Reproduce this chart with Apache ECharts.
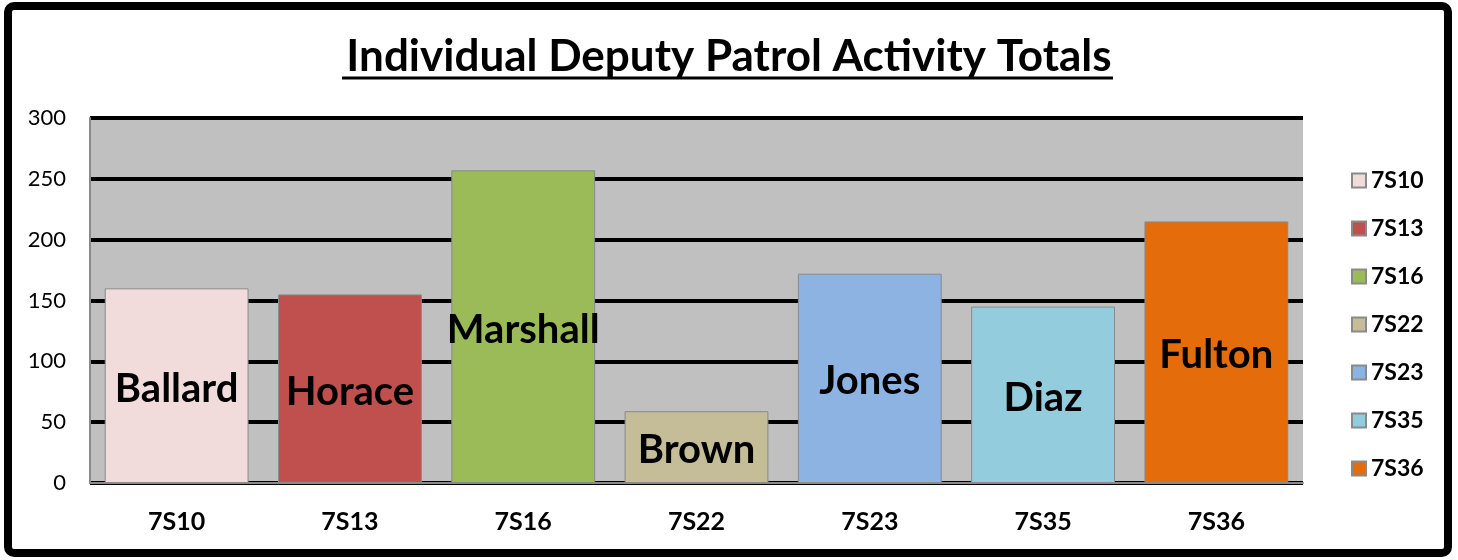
<!DOCTYPE html>
<html>
<head>
<meta charset="utf-8">
<script src="https://cdn.jsdelivr.net/npm/echarts@6/dist/echarts.min.js"></script>
<style>
  html, body { margin: 0; padding: 0; background: #fff; }
  #chart { width: 1458px; height: 560px; }
</style>
</head>
<body>
<div id="chart"></div>
<script>
// 数据
const categories = ['7S10', '7S13', '7S16', '7S22', '7S23', '7S35', '7S36']
const deputies = ['Ballard', 'Horace', 'Marshall', 'Brown', 'Jones', 'Diaz', 'Fulton']
const totals = [160, 155, 257, 59, 172, 145, 215]
const barColors = ['#F2DCDB', '#C0504D', '#9BBB59', '#C4BD97', '#8DB3E2', '#93CDDD', '#E46C0A']
const yTicks = [0, 50, 100, 150, 200, 250, 300]

const font = 'Lato'
const chart = echarts.init(document.getElementById('chart'))

// 每个分类一个系列，其余位置空着
const series = categories.map((cat, i) => ({
    name: cat,
    type: 'bar',
    stack: 'all',
    barWidth: '83%',
    data: categories.map((c, j) => (j === i ? totals[i] : '-')),
    itemStyle: {
        color: barColors[i],
        borderColor: '#8a8a8a',
        borderWidth: 1
    },
    label: {
        show: true,
        position: 'inside',
        offset: [0, 3],
        formatter: deputies[i],
        color: '#000',
        fontFamily: font,
        fontWeight: 'bold',
        fontSize: 40
    }
}))

chart.setOption({
    animation: false,
    title: {
        text: 'Individual Deputy Patrol Activity Totals',
        left: 'center',
        top: 30,
        textStyle: {
            fontFamily: font,
            fontWeight: 'bold',
            fontSize: 44,
            color: '#000'
        }
    },
    legend: {
        orient: 'vertical',
        left: 1346,
        top: 164,
        itemGap: 25,
        itemWidth: 14,
        itemHeight: 14,
        icon: 'rect',
        textStyle: {
            fontFamily: font,
            fontWeight: 'bold',
            fontSize: 23,
            color: '#000'
        },
        data: categories
    },
    grid: {
        left: 90,
        right: 155,
        top: 118,
        bottom: 77,
        show: true,
        backgroundColor: '#C0C0C0',
        borderWidth: 0
    },
    xAxis: {
        type: 'category',
        data: categories,
        axisTick: { show: false },
        axisLine: { lineStyle: { color: '#8a8a8a', width: 2 } },
        axisLabel: {
            margin: 26,
            color: '#000',
            fontFamily: font,
            fontWeight: 'bold',
            fontSize: 25
        }
    },
    yAxis: {
        type: 'value',
        min: 0,
        max: 300,
        interval: 50,
        axisLine: { show: true, lineStyle: { color: '#8a8a8a', width: 2 } },
        axisTick: { show: false },
        axisLabel: {
            margin: 24,
            color: '#000',
            fontFamily: font,
            fontSize: 22,
            formatter: v => (yTicks.includes(v) ? String(v) : '')
        },
        splitLine: { lineStyle: { color: '#000', width: 4 } }
    },
    graphic: [
        {
            type: 'rect',
            shape: { x: 8, y: 6, width: 1440, height: 547, r: 6 },
            style: { fill: 'none', stroke: '#000', lineWidth: 8 },
            z: 100
        },
        {
            type: 'line',
            shape: { x1: 342, y1: 78, x2: 1113, y2: 78 },
            style: { stroke: '#000', lineWidth: 3 }
        }
    ],
    series: series
})
</script>
</body>
</html>
